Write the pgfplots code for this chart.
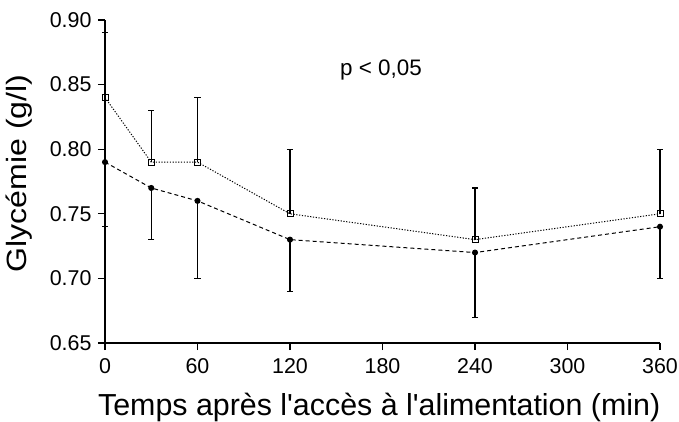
\documentclass[border=0pt]{standalone}
\usepackage{fontspec}
\setmainfont{Liberation Sans}
\usepackage{pgfplots}
\pgfplotsset{compat=1.18}

% glycaemia after access to food
\pgfplotstableread{
t   y     err
0   0.84  0.05
30  0.79  0.04
60  0.79  0.05
120 0.75  0.05
240 0.73  0.04
360 0.75  0.05
}\squares
\pgfplotstableread{
t   y     err
0   0.79  0.05
30  0.77  0.04
60  0.76  0.06
120 0.73  0.04
240 0.72  0.05
360 0.74  0.04
}\circles

\newcommand\tickfont{\fontsize{21.5}{25}\selectfont}

\begin{document}
\begin{tikzpicture}
\begin{axis}[
  at={(0,0)}, anchor=south west,
  scale only axis,
  width=555bp, height=323bp,
  xmin=0, xmax=360, ymin=0.65, ymax=0.90,
  axis lines*=left,
  axis line style={line width=1.2bp},
  tick style={line width=1.1bp, black},
  tick align=outside,
  major tick length=7bp,
  xtick={0,60,...,360},
  ytick={0.65,0.70,...,0.91},
  minor tick num=0,
  clip=false,
  /pgf/number format/assume math mode=true,
  xticklabel style={font=\tickfont, yshift=-5bp},
  yticklabel style={font=\tickfont, xshift=-3bp, /pgf/number format/.cd, fixed, fixed zerofill, precision=2},
  xlabel={Temps après l\textquotesingle accès à l\textquotesingle alimentation (min)},
  ylabel={\scalebox{1.15}[1]{Glycémie (g/l)}},
  xlabel style={font=\fontsize{30.5}{34}\selectfont, at={(axis description cs:0.494,0)}, anchor=base, yshift=-72bp, inner sep=0pt},
  ylabel style={font=\fontsize{28}{32}\selectfont, at={(axis description cs:0,0.525)}, anchor=base, yshift=78bp, inner sep=0pt},
]
\addplot[black, line width=1bp, dash pattern=on 1.2bp off 1.6bp,
  mark=square, mark size=3bp, mark options={solid, fill=white, line width=0.9bp},
  error bars/.cd, y dir=plus, y explicit,
  error bar style={solid, line width=1.1bp},
  error mark options={rotate=90, mark size=3bp, line width=1.1bp}]
  table[x=t, y=y, y error=err] {\squares};
\addplot[black, line width=1bp, dash pattern=on 4bp off 3bp,
  mark=*, mark size=2.5bp, mark options={solid, fill=black},
  error bars/.cd, y dir=minus, y explicit,
  error bar style={solid, line width=1.1bp},
  error mark options={rotate=90, mark size=3bp, line width=1.1bp}]
  table[x=t, y=y, y error=err] {\circles};
\node[anchor=base west, inner sep=0pt, font=\fontsize{22.5}{26}\selectfont]
  at (axis cs:152.4,0.857) {p < 0,05};
\end{axis}
\pgfresetboundingbox
\useasboundingbox (-105bp,-79bp) rectangle (574bp,343bp);
\end{tikzpicture}
\end{document}
